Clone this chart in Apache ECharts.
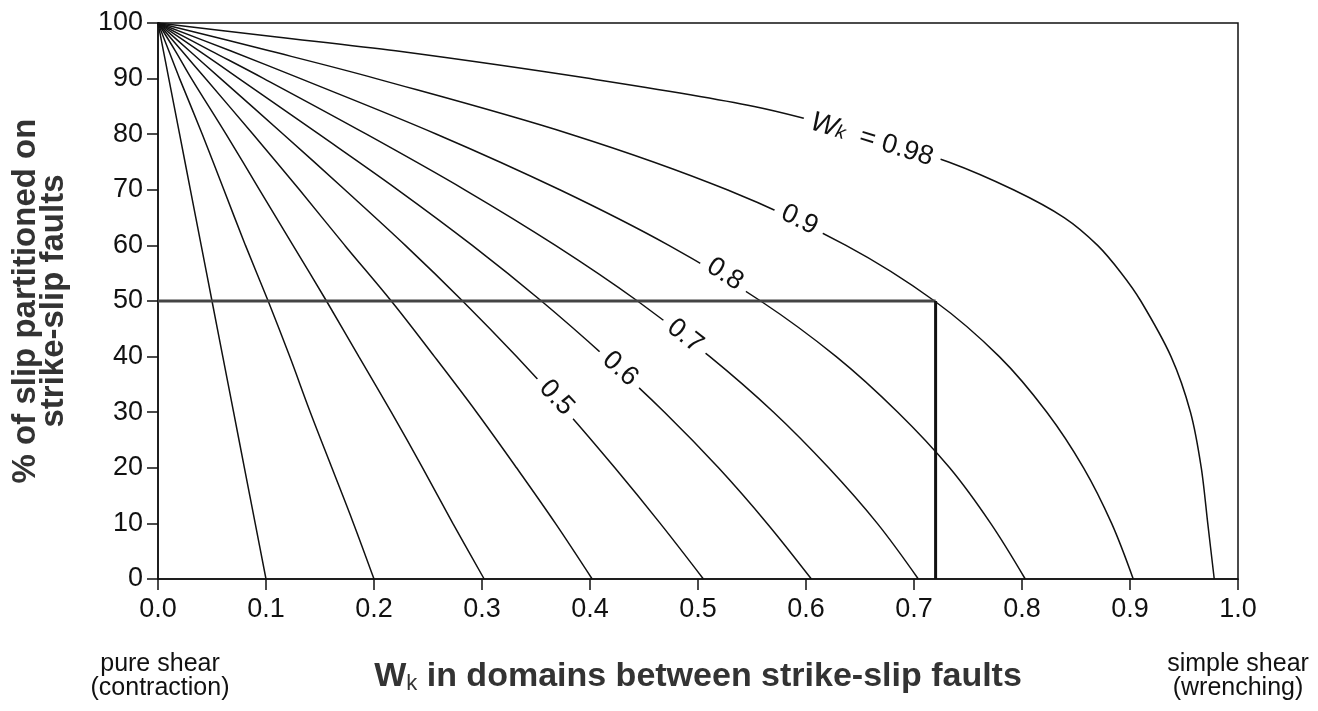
<!DOCTYPE html>
<html>
<head>
<meta charset="utf-8">
<script src="https://cdn.jsdelivr.net/npm/echarts@6/dist/echarts.min.js"></script>
<style>html,body{margin:0;padding:0;background:#fff;}#c{width:1318px;height:711px;}</style>
</head>
<body>
<div id="c"></div>
<script>
// % of slip partitioned on strike-slip faults (y levels)
const pctLevels = [100, 95, 90, 80, 70, 60, 50, 40, 30, 20, 10, 0];
// domain Wk at those levels
const wk01 = [0, 0.005, 0.010, 0.020, 0.030, 0.040, 0.050, 0.060, 0.070, 0.080, 0.090, 0.100];
const wk02 = [0, 0.010, 0.020, 0.041, 0.061, 0.081, 0.102, 0.122, 0.141, 0.161, 0.181, 0.200];
const wk03 = [0, 0.016, 0.031, 0.063, 0.094, 0.125, 0.156, 0.186, 0.216, 0.245, 0.273, 0.302];
const wk04 = [0, 0.022, 0.044, 0.088, 0.131, 0.173, 0.216, 0.256, 0.295, 0.332, 0.368, 0.402];
const wk05 = [0, 0.029, 0.058, 0.116, 0.173, 0.229, 0.282, 0.332, 0.379, 0.423, 0.465, 0.505];
const wk06 = [0, 0.038, 0.075, 0.149, 0.222, 0.291, 0.355, 0.414, 0.469, 0.519, 0.564, 0.605];
const wk07 = [0, 0.049, 0.098, 0.193, 0.284, 0.368, 0.444, 0.511, 0.570, 0.621, 0.666, 0.704];
const wk08 = [0, 0.067, 0.132, 0.258, 0.372, 0.473, 0.558, 0.628, 0.685, 0.733, 0.771, 0.803];
const wk09 = [0, 0.103, 0.202, 0.382, 0.527, 0.637, 0.719, 0.779, 0.823, 0.857, 0.883, 0.903];
// the 0.98 curve, read at its own levels
const pct098 = [100, 97.5, 95, 90, 85, 80, 75, 70, 65, 60, 55, 50, 40, 30, 20, 10, 0];
const wk098 = [0, 0.11, 0.22, 0.40, 0.552, 0.652, 0.732, 0.792, 0.839, 0.870, 0.892, 0.910, 0.938, 0.956, 0.966, 0.972, 0.978];
const curveNames = ['0.1', '0.2', '0.3', '0.4', '0.5', '0.6', '0.7', '0.8', '0.9'];
// example reading: 50 % partitioning, domain Wk 0.72
const examplePct = 50;
const exampleWk = 0.72;
const xTicks = ['0.0', '0.1', '0.2', '0.3', '0.4', '0.5', '0.6', '0.7', '0.8', '0.9', '1.0'];

const FONT = '"Liberation Sans", Arial, Helvetica, sans-serif';
const curves = [wk01, wk02, wk03, wk04, wk05, wk06, wk07, wk08, wk09];

const series = [];
curves.forEach((xs, k) => {
  series.push({
    name: 'Wk ' + curveNames[k], type: 'line', smooth: 0.35, symbol: 'none', z: 2,
    lineStyle: { color: '#111', width: 1.5 },
    data: pctLevels.map((p, i) => [xs[i], p])
  });
});
series.push({
  name: 'Wk 0.98', type: 'line', smooth: 0.3, symbol: 'none', z: 2,
  lineStyle: { color: '#111', width: 1.5 },
  data: pct098.map((p, i) => [wk098[i], p])
});
// example lines (drawn above the curve labels)
series.push({
  name: 'example-h', type: 'line', symbol: 'none', z: 12,
  lineStyle: { color: '#444', width: 3 },
  data: [[0, examplePct], [exampleWk, examplePct]]
});
series.push({
  name: 'example-v', type: 'line', symbol: 'none', z: 12,
  lineStyle: { color: '#111', width: 3 },
  data: [[exampleWk, examplePct], [exampleWk, 0]]
});

// curve labels (anchored on the curves, covering a short piece of them)
const labelSpecs = [
  { at: [0.661, 79.0], rot: -17, text: '{it|W}{sub|k}{n|  = 0.98}' },
  { at: [0.594, 64.6], rot: -26, text: '{n|0.9}' },
  { at: [0.525, 54.8], rot: -33, text: '{n|0.8}' },
  { at: [0.488, 43.7], rot: -38, text: '{n|0.7}' },
  { at: [0.428, 37.8], rot: -42, text: '{n|0.6}' },
  { at: [0.369, 32.6], rot: -47, text: '{n|0.5}' }
];
const baseTxt = { fontFamily: FONT, color: '#111', textBorderWidth: 0, opacity: 1 };
const richLabel = {
  n: Object.assign({ fontSize: 27, lineHeight: 24, verticalAlign: 'middle' }, baseTxt),
  it: Object.assign({ fontSize: 28, fontStyle: 'italic', lineHeight: 24, verticalAlign: 'middle' }, baseTxt),
  sub: Object.assign({ fontSize: 19, fontStyle: 'italic', lineHeight: 12, verticalAlign: 'bottom' }, baseTxt)
};
series.push({
  name: 'labels', type: 'scatter', symbol: 'circle', symbolSize: 1, z: 10, silent: true,
  itemStyle: { color: '#fff', opacity: 1 },
  emphasis: { disabled: true },
  data: labelSpecs.map(s => ({
    value: s.at,
    label: {
      show: true, position: 'inside', rotate: s.rot,
      formatter: s.text, rich: richLabel,
      color: '#111', opacity: 1, textBorderWidth: 0,
      backgroundColor: '#ffffff', padding: [2, 8]
    }
  }))
});

const chart = echarts.init(document.getElementById('c'), null, { renderer: 'canvas' });
chart.setOption({
  backgroundColor: '#fff',
  animation: false,
  grid: { left: 158, right: 80, top: 23, bottom: 132, show: true, borderColor: '#111', borderWidth: 1.5, backgroundColor: 'transparent' },
  xAxis: {
    type: 'value', min: 0, max: 1, interval: 0.1,
    axisLine: { lineStyle: { color: '#111', width: 1.5 } },
    axisTick: { show: true, length: 11, lineStyle: { color: '#111', width: 1.5 } },
    splitLine: { show: false },
    axisLabel: { color: '#111', fontSize: 27, fontFamily: FONT, margin: 17,
      formatter: v => xTicks[Math.round(v * 10)] },
    name: '{b|W}{bs|k}{b| in domains between strike-slip faults}',
    nameLocation: 'middle', nameGap: 80,
    nameTextStyle: {
      rich: {
        b: { fontSize: 34, fontWeight: 'bold', fontFamily: FONT, color: '#333', lineHeight: 36, verticalAlign: 'middle' },
        bs: { fontSize: 22, fontFamily: FONT, color: '#333', lineHeight: 16, verticalAlign: 'bottom' }
      }
    }
  },
  yAxis: {
    type: 'value', min: 0, max: 100, interval: 10,
    axisLine: { show: true, lineStyle: { color: '#111', width: 1.5 } },
    axisTick: { show: true, length: 11, lineStyle: { color: '#111', width: 1.5 } },
    splitLine: { show: false },
    axisLabel: { color: '#111', fontSize: 27, fontFamily: FONT, margin: 15 },
    name: '% of slip partitioned on\nstrike-slip faults',
    nameLocation: 'middle', nameRotate: 90, nameGap: 90,
    nameTextStyle: { fontSize: 33, fontWeight: 'bold', fontFamily: FONT, color: '#333', lineHeight: 28 }
  },
  graphic: [
    { type: 'text', x: 160, y: 652, style: { text: 'pure shear\n(contraction)', font: '25px ' + FONT, fill: '#111', align: 'center', verticalAlign: 'top', lineHeight: 24 } },
    { type: 'text', x: 1238, y: 652, style: { text: 'simple shear\n(wrenching)', font: '25px ' + FONT, fill: '#111', align: 'center', verticalAlign: 'top', lineHeight: 24 } }
  ],
  series: series
});
</script>
</body>
</html>
